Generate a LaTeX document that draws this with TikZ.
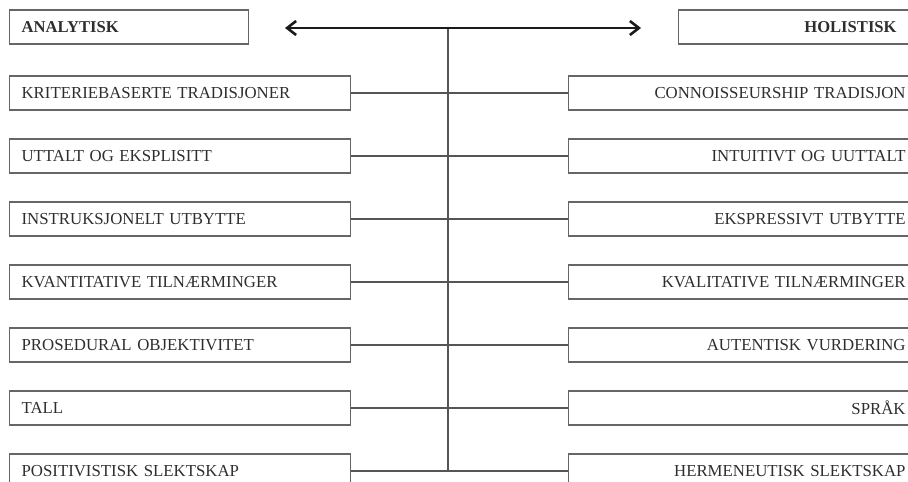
\documentclass[tikz,border=0pt]{standalone}
\usepackage{fontspec}
\setmainfont{Liberation Serif}
\usetikzlibrary{arrows.meta}
\definecolor{boxc}{HTML}{666666}
\definecolor{linec}{HTML}{555555}
\definecolor{txt}{HTML}{2E2E2E}
\definecolor{arrc}{HTML}{1A1A1A}
\begin{document}
\begin{tikzpicture}[x=1pt,y=-1pt,
  boxbase/.style={draw=boxc, line width=1.2pt, anchor=west, minimum height=34pt,
    font=\fontsize{16.8}{18}\selectfont, text=txt, inner ysep=2pt},
  lbox/.style={boxbase, text width=317pt, inner xsep=12pt, align=left},
  rbox/.style={boxbase, text width=327pt, inner xsep=10pt, align=right},
  lhead/.style={boxbase, text width=215pt, inner xsep=12pt, align=left, font=\fontsize{16.6}{18}\selectfont\bfseries},
  rhead/.style={boxbase, text width=198pt, inner xsep=20pt, align=right, font=\fontsize{16.6}{18}\selectfont\bfseries},
  conn/.style={draw=linec, line width=1.4pt},
  bigarrow/.style={draw=arrc, line width=2.6pt, {Straight Barb[length=9pt,width=14pt]}-{Straight Barb[length=9pt,width=14pt]}}
]
\useasboundingbox (0,0) rectangle (908,482);
\clip (0,0) rectangle (908,482);

\node[lhead] (ha) at (9,27) {ANALYTISK};
\node[rhead] (hh) at (678,27) {HOLISTISK};

\node[lbox] (l1) at (9,93) {KRITERIEBASERTE TRADISJONER};
\node[lbox] (l2) at (9,156) {UTTALT OG EKSPLISITT};
\node[lbox] (l3) at (9,219) {INSTRUKSJONELT UTBYTTE};
\node[lbox] (l4) at (9,282) {KVANTITATIVE TILNÆRMINGER};
\node[lbox] (l5) at (9,345) {PROSEDURAL OBJEKTIVITET};
\node[lbox] (l6) at (9,408) {TALL};
\node[lbox] (l7) at (9,471) {POSITIVISTISK SLEKTSKAP};

\node[rbox] (r1) at (568,93) {CONNOISSEURSHIP TRADISJON};
\node[rbox] (r2) at (568,156) {INTUITIVT OG UUTTALT};
\node[rbox] (r3) at (568,219) {EKSPRESSIVT UTBYTTE};
\node[rbox] (r4) at (568,282) {KVALITATIVE TILNÆRMINGER};
\node[rbox] (r5) at (568,345) {AUTENTISK VURDERING};
\node[rbox] (r6) at (568,408) {SPRÅK};
\node[rbox] (r7) at (568,471) {HERMENEUTISK SLEKTSKAP};

\foreach \i in {1,...,7} {
  \draw[conn] (l\i.east) -- (r\i.west);
}

\coordinate (top) at (448,28);
\coordinate (aL) at (285,28);
\coordinate (aR) at (641,28);
\draw[conn] (top) -- (top |- l7.east);
\draw[bigarrow] (aL) -- (aR);
\end{tikzpicture}
\end{document}
